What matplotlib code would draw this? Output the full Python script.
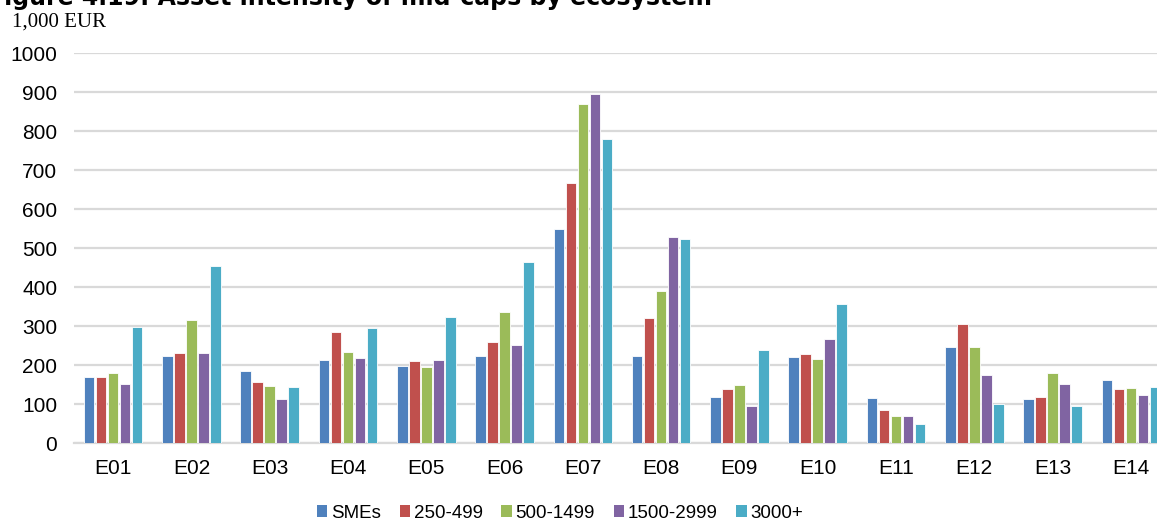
import numpy as np
import matplotlib.pyplot as plt
from matplotlib.patches import Patch

categories = ["E01", "E02", "E03", "E04", "E05", "E06", "E07",
              "E08", "E09", "E10", "E11", "E12", "E13", "E14"]

smes = [169, 225, 185, 214, 197, 223, 549, 225, 120, 221, 115, 248, 113, 162]
s250_499 = [169, 231, 158, 285, 211, 260, 668, 321, 138, 230, 85, 306, 119, 139]
s500_1499 = [179, 315, 146, 235, 196, 337, 869, 391, 149, 216, 70, 248, 180, 143]
s1500_2999 = [152, 232, 114, 218, 214, 251, 896, 528, 96, 267, 70, 175, 153, 123]
s3000 = [297, 455, 144, 296, 324, 466, 779, 523, 238, 356, 50, 100, 96, 144]

series_names = ["SMEs", "250-499", "500-1499", "1500-2999", "3000+"]
series = [smes, s250_499, s500_1499, s1500_2999, s3000]
colors = ["#4F81BD", "#C0504D", "#9BBB59", "#8064A2", "#4BACC6"]

plt.rcParams['font.family'] = ['Liberation Sans', 'DejaVu Sans']

fig = plt.figure(figsize=(11.57, 5.24), dpi=100)
ax = fig.add_axes([74 / 1157, 1 - 443.3 / 524, 1096 / 1157, 390 / 524])

x = np.arange(len(categories))
step = 0.153
for i, (vals, c) in enumerate(zip(series, colors)):
    ax.bar(x + (i - 2) * step, vals, width=0.135, color=c,
           edgecolor="white", linewidth=0.6, zorder=3)

ax.set_xlim(-0.5, len(categories) - 0.5)
ax.set_ylim(0, 1000)
ax.set_yticks(range(0, 1001, 100))
ax.set_xticks(x)
ax.set_xticklabels(categories)
ax.tick_params(axis="both", length=0, labelsize=15, colors="black")
ax.tick_params(axis="y", pad=12)
ax.tick_params(axis="x", pad=11)
ax.grid(axis="y", color="#d9d9d9", linewidth=1.6, zorder=0)
for s in ["top", "right", "left"]:
    ax.spines[s].set_visible(False)
ax.spines["bottom"].set_color("#d9d9d9")
ax.spines["bottom"].set_linewidth(1.6)

# title is cropped at the top edge in the source image
fig.text(-12 / 1157, 1 - 5 / 524, "Figure 4.19: Asset intensity of mid-caps by ecosystem",
         family="DejaVu Sans", fontweight="bold", fontsize=17, va="baseline", ha="left")
fig.text(12 / 1157, 1 - 22 / 524, "1,000 EUR", family="Liberation Serif",
         fontsize=15, va="center", ha="left")

handles = [Patch(facecolor=c, edgecolor="none") for c in colors]
fig.legend(handles, series_names, loc="center", bbox_to_anchor=(560 / 1157, 1 - 513 / 524),
           ncol=5, frameon=False, fontsize=13.5, handlelength=0.55, handleheight=0.55,
           handletextpad=0.2, columnspacing=1.0, borderpad=0.2)

fig.savefig("out.png", dpi=100)
